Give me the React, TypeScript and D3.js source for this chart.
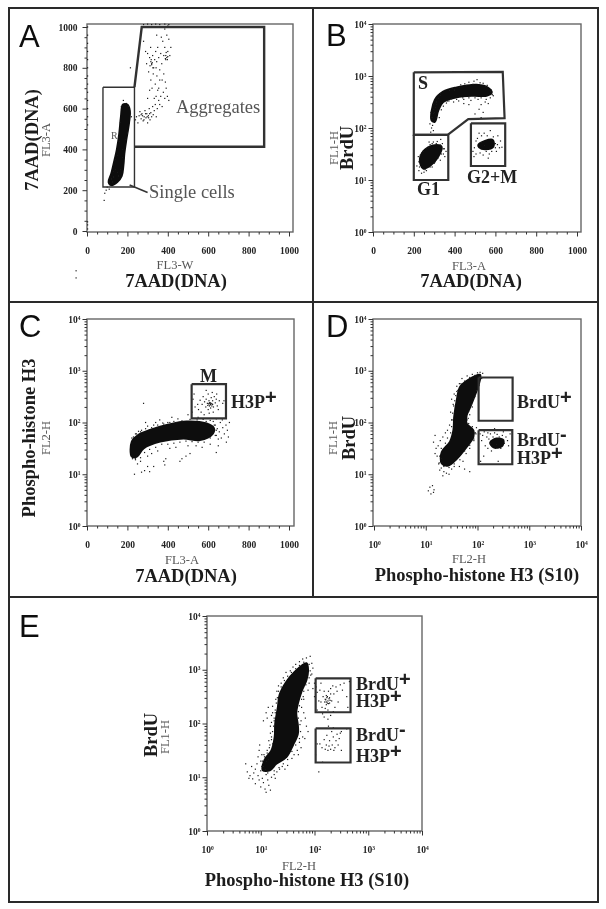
import { useRef, useEffect } from "react";
import * as d3 from "d3";

type Pt = [number, number];

// Panel A: linear channels (FL3-W, FL3-A)
const aBlob: Pt[] = [[107,240],[120,280],[132,330],[148,400],[160,480],[168,560],[178,620],[200,620],[212,590],[208,530],[195,450],[185,380],[180,320],[172,270],[150,240],[120,225]];
const aDots: Pt[] = [
  [240,545],[245,560],[252,530],[258,565],[262,585],[268,550],[272,575],[278,540],[283,560],[287,590],[292,555],[296,575],[300,530],[304,565],[308,600],[312,545],[316,580],[320,560],[325,610],[328,570],[333,590],[338,620],[343,560],[348,600],[355,640],[360,620],[365,660],[372,610],[378,680],[385,650],[392,700],[398,660],[405,640],
  [300,650],[310,690],[316,740],[322,700],[328,770],[333,650],[338,720],[342,800],[346,760],[350,690],[295,820],[300,870],[305,780],[310,850],[315,900],[320,820],[325,860],[330,800],[335,840],[340,880],[345,830],[350,900],[355,850],[360,790],[365,870],[370,820],[375,930],[380,860],[385,900],[390,840],[395,960],[400,880],[405,940],[410,860],[415,900],[385,990],[392,1000],[400,1005],[368,950],[345,960],[360,740],[372,740],[380,770],[355,700],[342,660],[388,730],[290,880],[280,930],
  [316,830],[320,815],[323,825],[318,840],[326,800],[312,810],[390,860],[395,850],[398,840],[392,875],[400,855],[388,845],[275,565],[268,570],[290,575],[298,560],[282,545],[305,555],[310,575],
  [280,1012],[300,1014],[320,1012],[340,1014],[360,1012],[385,1014],[405,1012],
  [3,10],[3,30],[3,45],[3,520],[3,560],[3,600],[3,640],[3,680],[3,720],[3,760],[3,800],[3,840],[3,880],[3,920],[3,960],[3,1000],
  [100,215],[95,200],[88,185],[85,150],[110,205],[125,240],[140,300],[150,370],[160,440],[140,350],[155,270],[175,360],[190,450],[200,480],[165,530],[170,610],[180,640],[195,625],[205,610],[215,575],[220,560],[175,400],[130,265],[120,255],[150,285],[130,290],[165,300],
  [215,800],[-54,-230],[-54,-195],
];
const aSingleGate: Pt[] = [[79,705],[235,705],[235,216],[79,216],[79,705]];
const aAggGate: Pt[] = [[235,705],[271,1000],[877,1000],[877,413],[235,413]];
const aLeader: Pt[] = [[211,225],[300,189]];

// Panels with a log channel keep log10 of the channel value
const bArc: Pt[] = [[287,2.15],[303,2.54],[344,2.70],[410,2.78],[508,2.83],[566,2.77],[582,2.68],[557,2.62],[492,2.62],[410,2.59],[344,2.50],[320,2.34],[303,2.12]];
const bG1: Pt[] = [[230,1.41],[254,1.58],[303,1.67],[336,1.64],[320,1.45],[271,1.25],[246,1.22],[234,1.29]];
const bG2: Pt[] = [[516,1.67],[549,1.75],[587,1.77],[590,1.64],[549,1.59],[520,1.63]];
const bDots: Pt[] = [
  [283,1.92],[287,2.0],[279,2.08],[292,2.05],[296,1.95],[289,2.2],[298,2.28],[284,2.3],[305,2.4],[295,2.45],[312,2.5],[325,2.2],[335,2.35],[318,2.62],[330,2.66],[345,2.42],[360,2.48],[352,2.72],[372,2.52],[388,2.76],[395,2.5],[420,2.52],[430,2.83],[450,2.85],[445,2.55],[470,2.88],[480,2.53],[495,2.9],[510,2.93],[525,2.87],[515,2.55],[540,2.86],[560,2.82],[580,2.73],[590,2.62],[575,2.58],[555,2.55],[530,2.45],[520,2.36],[500,2.27],[540,2.3],[550,2.5],[470,2.45],[565,2.47],[445,2.47],[530,2.2],
  [310,2.45],[320,2.56],[333,2.62],[375,2.72],[400,2.73],[425,2.78],[460,2.82],[490,2.84],[520,2.83],[550,2.8],[575,2.7],[585,2.64],[365,2.52],[385,2.56],[410,2.55],[440,2.58],[470,2.58],[500,2.58],[530,2.58],[302,2.3],[310,2.2],[295,2.35],
  [215,1.27],[222,1.45],[225,1.18],[238,1.13],[250,1.15],[262,1.18],[240,1.52],[262,1.6],[280,1.68],[296,1.73],[315,1.74],[340,1.7],[350,1.6],[358,1.55],[345,1.5],[330,1.38],[305,1.35],[290,1.25],[275,1.73],[332,1.78],[352,1.45],
  [225,1.35],[228,1.25],[232,1.48],[245,1.55],[270,1.63],[290,1.7],[310,1.7],[330,1.67],[345,1.6],[335,1.5],[318,1.42],[300,1.32],[280,1.25],[255,1.2],
  [490,1.55],[497,1.62],[505,1.5],[512,1.8],[525,1.52],[532,1.85],[540,1.48],[545,1.9],[555,1.55],[560,1.85],[570,1.5],[575,1.95],[582,1.55],[590,1.83],[600,1.7],[605,1.55],[612,1.85],[620,1.62],[632,1.63],[625,1.75],[505,1.75],[520,1.9],[565,1.42],[545,1.67],[530,1.72],[600,1.62],[610,1.68],[495,1.45],
];
const bSGate: Pt[] = [[200,1175],[636,1200],[645,155],[467,148],[366,74],[200,74],[200,1175]];
const bG1Gate: Pt[] = [[200,74],[369,74],[369,10],[200,10],[200,74]];
const bG2Gate: Pt[] = [[480,123],[648,123],[648,18.6],[480,18.6],[480,123]];

const cBand: Pt[] = [[222,1.63],[255,1.76],[312,1.855],[395,1.95],[493,2.02],[592,1.98],[628,1.89],[622,1.78],[559,1.66],[477,1.69],[362,1.63],[280,1.5],[247,1.34],[222,1.34]];
const cDots: Pt[] = [
  [560,2.43],[570,2.35],[575,2.5],[582,2.4],[588,2.3],[590,2.45],[596,2.37],[600,2.55],[604,2.42],[606,2.32],[610,2.38],[612,2.28],[615,2.48],[618,2.36],[622,2.42],[626,2.3],[630,2.5],[635,2.38],[640,2.45],[645,2.32],[650,2.25],[655,2.42],[548,2.35],[552,2.25],[565,2.2],[580,2.15],[605,2.18],[600,2.25],[625,2.2],[642,2.55],[620,2.58],[590,2.62],[535,2.3],[525,2.45],[530,2.55],[672,2.37],[678,2.42],[608,2.37],[612,2.35],
  [602,2.36],[606,2.38],[610,2.34],[614,2.37],[618,2.32],[598,2.33],[622,2.35],
  [280,2.37],[235,1.0],[270,1.04],[285,1.07],[310,1.05],[300,1.15],[330,1.15],[380,1.25],[385,1.18],[390,1.3],[460,1.25],[470,1.3],[490,1.35],[510,1.4],[250,1.2],[265,1.25],[240,1.28],[300,1.35],[320,1.4],[350,1.45],[410,1.5],[440,1.52],[500,1.55],[540,1.55],[570,1.52],[610,1.58],[640,1.42],[650,1.55],
  [290,2.0],[300,1.93],[340,2.0],[360,2.05],[400,2.0],[420,2.1],[450,2.07],[520,2.2],[500,2.15],[550,2.1],[575,2.06],[270,1.85],[245,1.78],[255,1.83],[330,1.95],[375,1.99],[430,2.02],[470,2.03],
  [635,1.95],[640,1.75],[645,1.88],[655,1.82],[660,2.0],[665,1.7],[672,1.9],[680,1.78],[688,1.95],[695,1.85],[700,1.72],[705,2.0],[690,1.62],[670,2.05],[650,1.68],[640,2.07],[625,2.02],[610,2.04],
  [222,1.7],[230,1.72],[240,1.78],[265,1.82],[290,1.88],[320,1.9],[350,1.95],[380,1.97],[410,2.0],[440,2.0],[470,2.02],[510,2.06],[545,2.05],[590,2.02],[630,1.95],[640,1.85],[635,1.75],[610,1.7],[580,1.62],[550,1.62],[520,1.63],[490,1.64],[460,1.62],[430,1.6],[400,1.58],[370,1.58],[340,1.52],[310,1.48],[285,1.42],[265,1.32],[240,1.3],[225,1.3],
];
const cGate: Pt[] = [[518,550],[688,550],[688,120],[518,120],[518,550]];

const dBlob: Pt[] = [[1.31,1.21],[1.31,1.43],[1.47,1.63],[1.535,1.85],[1.55,2.11],[1.60,2.43],[1.665,2.69],[1.83,2.83],[2.05,2.92],[2.02,2.72],[1.95,2.53],[1.86,2.30],[1.79,2.14],[1.79,1.98],[1.92,1.85],[1.92,1.72],[1.79,1.53],[1.60,1.30],[1.44,1.17]];
const dCluster: Pt[] = [[2.245,1.61],[2.37,1.69],[2.50,1.66],[2.47,1.54],[2.31,1.52]];
const dDots: Pt[] = [
  [1.05,0.68],[1.08,0.75],[1.1,0.62],[1.13,0.78],[1.16,0.7],[1.15,0.65],[1.15,1.62],[1.18,1.75],[1.2,1.5],[1.25,1.2],[1.27,1.08],[1.3,1.12],[1.35,1.05],[1.4,1.02],[1.33,0.97],[1.45,1.0],[1.5,1.1],[1.55,1.15],[1.3,1.3],[1.22,1.35],[1.18,1.4],[1.24,1.55],[1.28,1.65],[1.33,1.72],[1.38,1.8],[1.42,1.85],[1.46,1.95],[1.5,2.05],[1.48,2.2],[1.53,2.35],[1.5,2.45],[1.55,2.55],[1.6,2.7],[1.65,2.75],[1.7,2.85],[1.8,2.9],[1.9,2.93],[2.0,2.96],[2.05,2.97],[2.1,2.95],[2.08,2.85],[2.03,2.72],[1.95,2.5],[1.9,2.3],[1.85,2.15],[1.8,2.05],[1.98,1.9],[1.97,1.78],[1.93,1.65],[1.85,1.5],[1.78,1.4],[1.72,1.25],[1.65,1.15],[1.75,1.1],[1.85,1.05],
  [1.26,1.22],[1.27,1.35],[1.3,1.5],[1.38,1.6],[1.42,1.7],[1.48,1.8],[1.5,1.92],[1.51,2.05],[1.52,2.18],[1.54,2.32],[1.56,2.42],[1.58,2.52],[1.62,2.62],[1.68,2.75],[1.75,2.8],[1.85,2.87],[1.95,2.91],[2.02,2.8],[1.98,2.62],[1.92,2.47],[1.88,2.35],[1.83,2.22],[1.82,2.08],[1.83,1.98],[1.9,1.92],[1.96,1.8],[1.93,1.68],[1.85,1.56],[1.75,1.45],[1.66,1.28],[1.55,1.2],[1.45,1.13],[1.35,1.15],[1.6,2.6],[1.56,2.2],
  [2.05,1.78],[2.08,1.65],[2.1,1.75],[2.13,1.82],[2.15,1.55],[2.18,1.72],[2.2,1.8],[2.22,1.68],[2.25,1.78],[2.27,1.45],[2.3,1.72],[2.33,1.8],[2.36,1.58],[2.38,1.77],[2.42,1.72],[2.45,1.5],[2.48,1.75],[2.52,1.6],[2.55,1.72],[2.58,1.65],[2.6,1.55],[2.63,1.78],[2.2,1.5],[2.25,1.6],[2.35,1.5],[2.4,1.25],[2.5,1.82],[2.43,1.85],[2.12,1.35],[2.06,1.25],[2.33,1.88],
];
const dBrduPlus: Pt[] = [[105,741],[477,741],[477,108],[105,108],[105,741]];
const dBrduMinus: Pt[] = [[105,71],[470,71],[470,15.6],[105,15.6],[105,71]];

const eBlob: Pt[] = [[1.04,1.13],[1.07,1.32],[1.20,1.50],[1.26,1.75],[1.27,2.0],[1.32,2.31],[1.35,2.53],[1.48,2.78],[1.63,2.96],[1.85,3.12],[1.88,2.99],[1.85,2.81],[1.755,2.59],[1.69,2.37],[1.66,2.19],[1.69,1.97],[1.69,1.81],[1.60,1.60],[1.48,1.38],[1.29,1.25],[1.17,1.13]];
const eDots: Pt[] = [
  [0.72,1.25],[0.75,1.1],[0.78,0.98],[0.8,1.03],[0.83,1.2],[0.85,0.97],[0.87,1.08],[0.9,1.15],[0.9,0.88],[0.93,1.25],[0.95,1.03],[0.97,0.95],[1.0,1.12],[1.0,0.82],[1.03,0.98],[1.05,0.9],[1.05,1.2],[1.08,0.78],[1.1,1.05],[1.1,0.72],[1.13,0.95],[1.15,0.85],[1.18,0.76],[1.2,1.0],[0.97,1.5],[0.98,1.6],[1.02,1.42],[1.07,1.38],[1.12,1.45],[1.16,1.55],[1.2,1.7],[1.22,1.62],[1.1,1.3],[1.15,1.33],[1.25,1.05],[1.3,1.1],[1.35,1.15],[1.4,1.2],[1.27,0.98],
  [1.05,2.05],[1.1,2.2],[1.12,2.1],[1.14,2.3],[1.18,1.95],[1.2,2.15],[1.22,2.32],[1.25,2.05],[1.27,2.2],[1.28,2.45],[1.3,2.6],[1.33,2.7],[1.38,2.75],[1.42,2.85],[1.47,2.95],[1.55,2.98],[1.6,3.05],[1.65,3.1],[1.72,3.15],[1.78,3.2],[1.85,3.22],[1.92,3.25],[1.95,3.12],[1.97,3.03],[1.93,2.9],[1.9,2.75],[1.88,2.62],[1.8,2.45],[1.85,1.95],[1.83,2.1],[1.8,2.2],[1.75,2.05],[1.78,1.75],[1.72,1.65],[1.68,1.5],[1.62,1.42],[1.58,1.35],[1.5,1.22],[1.45,1.15],[1.7,1.42],[1.75,1.55],[1.82,1.72],[1.88,1.85],
  [1.02,1.2],[1.03,1.3],[1.06,1.42],[1.12,1.5],[1.17,1.6],[1.2,1.75],[1.22,1.85],[1.24,1.95],[1.25,2.1],[1.27,2.25],[1.29,2.38],[1.31,2.48],[1.33,2.6],[1.38,2.68],[1.44,2.8],[1.5,2.88],[1.57,2.95],[1.65,3.02],[1.72,3.08],[1.8,3.14],[1.9,3.1],[1.92,2.98],[1.9,2.85],[1.84,2.72],[1.8,2.6],[1.76,2.45],[1.72,2.33],[1.7,2.22],[1.7,2.1],[1.73,1.98],[1.74,1.85],[1.72,1.72],[1.65,1.6],[1.58,1.48],[1.5,1.33],[1.42,1.25],[1.34,1.18],[1.25,1.12],[1.13,1.08],[1.08,1.15],[1.0,1.3],[0.95,1.38],[1.15,1.68],[1.18,1.82],[1.2,2.02],[1.22,2.2],[1.76,2.3],[1.79,2.5],[1.95,2.92],
  [2.0,2.75],[1.97,2.65],[2.03,2.68],[2.0,2.5],[2.05,2.58],[2.08,2.42],[2.1,2.62],[2.12,2.75],[2.14,2.3],[2.16,2.5],[2.18,2.6],[2.2,2.45],[2.22,2.52],[2.24,2.38],[2.26,2.6],[2.28,2.48],[2.3,2.65],[2.32,2.42],[2.34,2.7],[2.36,2.55],[2.38,2.3],[2.4,2.68],[2.42,2.6],[2.44,2.4],[2.48,2.72],[2.52,2.62],[2.55,2.75],[2.6,2.5],[2.62,2.3],[2.2,2.28],[2.25,2.25],[2.18,2.12],[2.25,2.08],[2.3,2.15],[2.15,2.18],[2.22,2.35],[2.28,2.38],[2.3,2.55],[2.12,2.4],[2.35,2.22],[2.05,2.25],[2.65,2.78],
  [2.21,2.44],[2.23,2.48],[2.25,2.42],[2.27,2.46],[2.19,2.4],[2.24,2.5],[2.29,2.43],[2.26,2.37],[2.22,2.4],
  [2.1,1.62],[2.14,1.55],[2.18,1.7],[2.2,1.52],[2.22,1.6],[2.23,1.78],[2.25,1.5],[2.27,1.58],[2.28,1.68],[2.3,1.52],[2.32,1.85],[2.33,1.6],[2.35,1.75],[2.36,1.5],[2.38,1.55],[2.4,1.68],[2.42,1.8],[2.44,1.6],[2.46,1.72],[2.48,1.82],[2.5,1.85],[2.5,1.5],[2.35,1.92],[2.26,1.95],[2.02,1.42],[2.05,1.62],[2.08,1.1],[2.15,1.28],[2.6,1.9],
];
const eTopGate: Pt[] = [[105,692],[468,692],[468,162],[105,162],[105,692]];
const eBottomGate: Pt[] = [[105,81],[468,81],[468,18.8],[105,18.8],[105,81]];

const linearTicks = [0, 200, 400, 600, 800, 1000];
const logTicks = [1, 10, 100, 1000, 10000];

const SERIF = "'Liberation Serif', serif";
const SANS = "'Liberation Sans', sans-serif";

interface Label {
  text: string;
  x: number;
  y: number;
  size?: number;
  weight?: string;
  color?: string;
  anchor?: string;
  rotate?: boolean;
  sup?: string;
}

interface Panel {
  frame: [number, number, number, number];
  xRange: [number, number];
  yRange: [number, number];
  logX: boolean;
  logY: boolean;
  blobs: Pt[][];
  dots: Pt[];
  gates: { pts: Pt[]; width: number }[];
  labels: Label[];
}

const title = (text: string, x: number, y: number): Label => ({ text, x, y, size: 18.5, weight: "bold", anchor: "middle", color: "#1c1c1c" });
const channel = (text: string, x: number, y: number): Label => ({ text, x, y, size: 12.5, anchor: "middle", color: "#555" });
const rTitle = (text: string, x: number, y: number): Label => ({ ...title(text, x, y), rotate: true });
const rChannel = (text: string, x: number, y: number): Label => ({ ...channel(text, x, y), rotate: true });
const gateLabel = (text: string, x: number, y: number, sup?: string): Label => ({ text, x, y, size: 18, weight: "bold", color: "#222", sup });
const letter = (text: string, x: number, y: number): Label => ({ text, x, y, size: 31, color: "#111" });

const panels: Panel[] = [
  {
    frame: [87, 24, 293, 232], xRange: [87, 289], yRange: [231, 27], logX: false, logY: false,
    blobs: [aBlob], dots: aDots,
    gates: [{ pts: aSingleGate, width: 1.4 }, { pts: aAggGate, width: 2.4 }, { pts: aLeader, width: 1.6 }],
    labels: [
      letter("A", 19, 47), channel("FL3-W", 175, 269), title("7AAD(DNA)", 176, 287),
      rChannel("FL3-A", 50, 140), rTitle("7AAD(DNA)", 38, 140),
      { text: "Aggregates", x: 176, y: 113, size: 18.5, color: "#555" },
      { text: "Single cells", x: 149, y: 198, size: 18.5, color: "#555" },
      { text: "R", x: 111, y: 139, size: 10, color: "#555" },
    ],
  },
  {
    frame: [373, 24, 581, 232], xRange: [373, 577], yRange: [232, 24], logX: false, logY: true,
    blobs: [bArc, bG1, bG2], dots: bDots,
    gates: [{ pts: bSGate, width: 2.2 }, { pts: bG1Gate, width: 2.2 }, { pts: bG2Gate, width: 2.2 }],
    labels: [
      letter("B", 326, 46), channel("FL3-A", 469, 270), title("7AAD(DNA)", 471, 287),
      rChannel("FL1-H", 338, 148), rTitle("BrdU", 353, 148),
      gateLabel("S", 418, 89), gateLabel("G1", 417, 195), gateLabel("G2+M", 467, 183),
    ],
  },
  {
    frame: [87, 319, 294, 526], xRange: [87, 289], yRange: [526, 319], logX: false, logY: true,
    blobs: [cBand], dots: cDots,
    gates: [{ pts: cGate, width: 2.2 }],
    labels: [
      letter("C", 19, 337), channel("FL3-A", 182, 564), title("7AAD(DNA)", 186, 582),
      rChannel("FL2-H", 50, 438), rTitle("Phospho-histone H3", 35, 438),
      gateLabel("M", 200, 382), gateLabel("H3P", 231, 408, "+"),
    ],
  },
  {
    frame: [373, 319, 581, 526], xRange: [374, 581], yRange: [526, 319], logX: true, logY: true,
    blobs: [dBlob, dCluster], dots: dDots,
    gates: [{ pts: dBrduPlus, width: 2.2 }, { pts: dBrduMinus, width: 2.2 }],
    labels: [
      letter("D", 326, 337), channel("FL2-H", 469, 563), title("Phospho-histone H3 (S10)", 477, 581),
      rChannel("FL1-H", 337, 438), rTitle("BrdU", 355, 438),
      gateLabel("BrdU", 517, 408, "+"), gateLabel("BrdU", 517, 446, "-"), gateLabel("H3P", 517, 464, "+"),
    ],
  },
  {
    frame: [207, 616, 422, 831], xRange: [207, 422], yRange: [831, 616], logX: true, logY: true,
    blobs: [eBlob], dots: eDots,
    gates: [{ pts: eTopGate, width: 2.2 }, { pts: eBottomGate, width: 2.2 }],
    labels: [
      letter("E", 19, 637), channel("FL2-H", 299, 870), title("Phospho-histone H3 (S10)", 307, 886),
      rChannel("FL1-H", 169, 737), rTitle("BrdU", 157, 735),
      gateLabel("BrdU", 356, 690, "+"), gateLabel("H3P", 356, 707, "+"), gateLabel("BrdU", 356, 741, "-"), gateLabel("H3P", 356, 762, "+"),
    ],
  },
];

function drawAxis(g: d3.Selection<SVGGElement, unknown, null, undefined>, scale: any, log: boolean, side: "bottom" | "left") {
  const make = side === "bottom" ? d3.axisBottom : d3.axisLeft;
  const major = log ? logTicks : linearTicks;
  const minor = log
    ? logTicks.slice(0, -1).flatMap((t) => [2, 3, 4, 5, 6, 7, 8, 9].map((m) => t * m))
    : d3.range(0, 1001, 50).filter((t) => t % 200 !== 0);

  g.append("g").call(make(scale).tickValues(minor).tickSize(2.5).tickFormat(() => ""));
  const pad = side === "bottom" ? 10.5 : log ? 2 : 5;
  const ax = g.append("g").call(make(scale).tickValues(major).tickSize(4.5).tickPadding(pad).tickFormat((d: any) => (log ? "10" : String(d))));
  g.selectAll(".domain").remove();
  g.selectAll("line").attr("stroke", "#333").attr("stroke-width", 1);
  ax.selectAll<SVGTextElement, number>("text")
    .attr("font-family", SERIF)
    .attr("font-weight", "bold")
    .attr("font-size", 9.5)
    .attr("fill", "#222");
  if (log) {
    ax.selectAll<SVGTextElement, number>("text")
      .append("tspan")
      .attr("dy", -3)
      .attr("font-size", 5.5)
      .text((d) => String(Math.round(Math.log10(d))));
  }
}

export default function App() {
  const svgRef = useRef<SVGSVGElement>(null);

  useEffect(() => {
    if (!svgRef.current) return;
    const svg = d3.select(svgRef.current);
    svg.selectAll("*").remove();

    // the source is a soft scan
    svg.append("filter").attr("id", "scan").append("feGaussianBlur").attr("stdDeviation", 0.35);
    const root = svg.append("g").attr("filter", "url(#scan)");
    root.append("rect").attr("width", 606).attr("height", 909).attr("fill", "#fff");

    // figure frame
    const frame = root.append("g").attr("fill", "none").attr("stroke", "#2a2a2a").attr("stroke-width", 2);
    frame.append("rect").attr("x", 9).attr("y", 8).attr("width", 589).attr("height", 894);
    frame.append("line").attr("x1", 9).attr("x2", 598).attr("y1", 302).attr("y2", 302);
    frame.append("line").attr("x1", 9).attr("x2", 598).attr("y1", 597).attr("y2", 597);
    frame.append("line").attr("x1", 313).attr("x2", 313).attr("y1", 8).attr("y2", 597);

    panels.forEach((p) => {
      const g = root.append("g");
      const [x0, y0, x1, y1] = p.frame;

      const xs: any = p.logX ? d3.scaleLog().domain([1, 10000]).range(p.xRange) : d3.scaleLinear().domain([0, 1000]).range(p.xRange);
      const ys: any = p.logY ? d3.scaleLog().domain([1, 10000]).range(p.yRange) : d3.scaleLinear().domain([0, 1000]).range(p.yRange);

      g.append("rect")
        .attr("x", x0).attr("y", y0).attr("width", x1 - x0).attr("height", y1 - y0)
        .attr("fill", "#fff").attr("stroke", "#666").attr("stroke-width", 1.4);

      drawAxis(g.append("g").attr("transform", `translate(0,${y1})`), xs, p.logX, "bottom");
      drawAxis(g.append("g").attr("transform", `translate(${x0},0)`), ys, p.logY, "left");

      // blobs and dots hold log10 on log channels
      const px = (d: Pt) => xs(p.logX ? 10 ** d[0] : d[0]);
      const py = (d: Pt) => ys(p.logY ? 10 ** d[1] : d[1]);

      const blob = d3.line<Pt>().x(px).y(py).curve(d3.curveCatmullRomClosed);
      g.selectAll(".blob").data(p.blobs).enter().append("path")
        .attr("d", (d) => blob(d)!)
        .attr("fill", "#0c0c0c")
        .attr("stroke", "#0c0c0c")
        .attr("stroke-width", 2);

      g.selectAll(".dot").data(p.dots).enter().append("rect")
        .attr("x", (d) => px(d) - 0.6)
        .attr("y", (d) => py(d) - 0.6)
        .attr("width", 1.2)
        .attr("height", 1.2)
        .attr("fill", "#1a1a1a");

      // gates are in plain channel units
      const gate = d3.line<Pt>().x((d) => xs(d[0])).y((d) => ys(d[1]));
      p.gates.forEach((a) => {
        g.append("path")
          .attr("d", gate(a.pts)!)
          .attr("fill", "none")
          .attr("stroke", "#333")
          .attr("stroke-width", a.width);
      });

      p.labels.forEach((l) => {
        const t = g.append("text")
          .attr("font-family", l.size === 31 ? SANS : SERIF)
          .attr("font-size", l.size ?? 10)
          .attr("font-weight", l.weight ?? "normal")
          .attr("fill", l.color ?? "#222")
          .attr("text-anchor", l.anchor ?? "start")
          .attr("transform", `translate(${l.x},${l.y})${l.rotate ? " rotate(-90)" : ""}`)
          .text(l.text);
        if (l.sup) {
          t.append("tspan").attr("dy", l.sup === "+" ? -4 : -5).attr("font-family", SANS).attr("font-size", 20).text(l.sup);
        }
      });
    });
  }, []);

  return <svg ref={svgRef} width={606} height={909} style={{ position: "absolute", left: 0, top: 0 }} />;
}
